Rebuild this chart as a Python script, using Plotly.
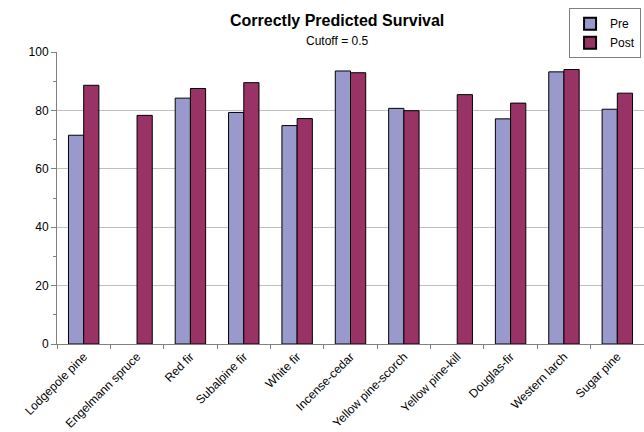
import plotly.graph_objects as go

categories = ["Lodgepole pine", "Engelmann spruce", "Red fir", "Subalpine fir", "White fir",
              "Incense-cedar", "Yellow pine-scorch", "Yellow pine-kill", "Douglas-fir",
              "Western larch", "Sugar pine"]
pre_values = [71.5, None, 84.2, 79.3, 74.8, 93.5, 80.7, None, 77.1, 93.2, 80.4]
post_values = [88.6, 78.3, 87.5, 89.5, 77.2, 92.9, 79.9, 85.4, 82.5, 94.0, 85.9]
y_ticks = [0, 20, 40, 60, 80, 100]

FONT = "Liberation Sans, Arial, sans-serif"

fig = go.Figure()
fig.add_trace(go.Bar(name="Pre", x=categories, y=pre_values,
                     marker=dict(color="#9999CC", line=dict(color="#000000", width=1))))
fig.add_trace(go.Bar(name="Post", x=categories, y=post_values,
                     marker=dict(color="#993366", line=dict(color="#000000", width=1))))

fig.update_layout(
    width=644, height=432,
    margin=dict(l=57, r=0, t=52, b=88, pad=0),
    paper_bgcolor="white", plot_bgcolor="white",
    barmode="group", bargap=0.43, bargroupgap=0,
    font=dict(family=FONT, size=12, color="#000000"),
    showlegend=True,
    legend=dict(x=0.995, y=1.15, xanchor="right", yanchor="top",
                bordercolor="#808080", borderwidth=1, bgcolor="white",
                font=dict(size=12), tracegroupgap=0, itemwidth=30,
                itemsizing="constant"),
    annotations=[
        dict(text="<b>Correctly Predicted Survival</b>", x=0.477, y=1.0, xref="paper", yref="paper",
             yshift=32, showarrow=False, font=dict(size=16, family=FONT), xanchor="center", yanchor="middle"),
        dict(text="Cutoff = 0.5", x=0.477, y=1.0, xref="paper", yref="paper",
             yshift=11, showarrow=False, font=dict(size=12, family=FONT), xanchor="center", yanchor="middle"),
    ],
)

fig.update_xaxes(
    type="category", range=[-0.5, len(categories) - 0.5],
    tickangle=-45, tickfont=dict(size=12, family=FONT),
    ticks="outside", tickson="boundaries", ticklen=4, tickcolor="#808080",
    showline=True, linecolor="#808080", linewidth=1, showgrid=False,
)
fig.update_yaxes(
    range=[0, 100], tickvals=y_ticks, ticks="outside", ticklen=5, tickcolor="#808080",
    minor=dict(ticks="outside", dtick=10, ticklen=3, tickcolor="#808080", showgrid=False),
    showline=True, linecolor="#808080", linewidth=1,
    showgrid=True, gridcolor="#C0C0C0", gridwidth=1, zeroline=False,
    tickfont=dict(size=12, family=FONT),
)

fig.write_html("out.html", config={"displayModeBar": False},
               post_script="document.body.style.margin='0';document.body.style.overflow='hidden';")
